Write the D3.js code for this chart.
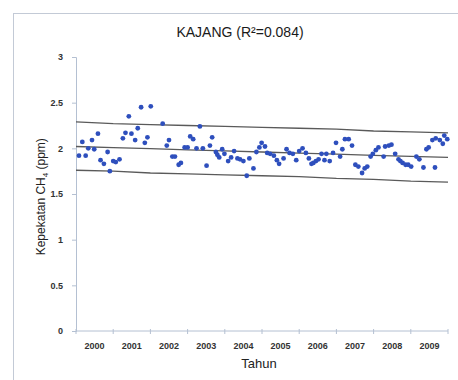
<!DOCTYPE html>
<html>
<head>
<meta charset="utf-8">
<script src="https://cdn.jsdelivr.net/npm/d3@7"></script>
<style>
  html, body { margin: 0; padding: 0; background: #ffffff; }
  svg { display: block; }
</style>
</head>
<body>
<svg id="chart" width="458" height="380"></svg>
<script>
// Monthly CH4 concentration at Kajang, 2000–2009 (decimal year, ppm)
const time = [
  2000.08, 2000.17, 2000.26, 2000.33, 2000.43, 2000.49, 2000.59, 2000.66, 2000.75, 2000.85, 2000.91,
  2001.00, 2001.07, 2001.17, 2001.26, 2001.33, 2001.42, 2001.49, 2001.59, 2001.66, 2001.75, 2001.85, 2001.92,
  2002.01, 2002.33, 2002.44, 2002.50, 2002.59, 2002.66, 2002.76, 2002.82, 2002.92,
  2003.00, 2003.07, 2003.15, 2003.24, 2003.33, 2003.41, 2003.51, 2003.60, 2003.66, 2003.76, 2003.80, 2003.85, 2003.93, 2003.99,
  2004.09, 2004.17, 2004.25, 2004.34, 2004.41, 2004.50, 2004.59, 2004.66, 2004.77, 2004.85, 2004.93, 2004.99,
  2005.08, 2005.14, 2005.22, 2005.32, 2005.40, 2005.46, 2005.58, 2005.66, 2005.74, 2005.83, 2005.92,
  2006.00, 2006.09, 2006.18, 2006.26, 2006.33, 2006.38, 2006.45, 2006.52, 2006.60, 2006.68, 2006.73, 2006.82, 2006.91, 2006.99,
  2007.10, 2007.16, 2007.23, 2007.33, 2007.42, 2007.51, 2007.59, 2007.69, 2007.76, 2007.83, 2007.92, 2007.98,
  2008.06, 2008.13, 2008.27, 2008.31, 2008.41, 2008.48, 2008.58, 2008.67, 2008.72, 2008.78, 2008.86, 2008.93,
  2009.01, 2009.15, 2009.23, 2009.34, 2009.42, 2009.48, 2009.58, 2009.67, 2009.65, 2009.78, 2009.86, 2009.90, 2009.98
];
const ch4 = [
  1.92, 2.07, 1.92, 2.00, 2.09, 1.99, 2.16, 1.87, 1.83, 1.96, 1.75,
  1.86, 1.85, 1.88, 2.11, 2.17, 2.35, 2.16, 2.09, 2.22, 2.45, 2.06, 2.12,
  2.46, 2.27, 2.03, 2.09, 1.91, 1.91, 1.82, 1.84, 2.01,
  2.01, 2.13, 2.10, 2.00, 2.24, 2.00, 1.81, 2.03, 2.12, 1.96, 1.93, 1.90, 1.99, 1.94,
  1.86, 1.90, 1.97, 1.89, 1.88, 1.86, 1.70, 1.89, 1.78, 1.96, 2.01, 2.06,
  2.02, 1.95, 1.94, 1.92, 1.87, 1.83, 1.89, 1.99, 1.95, 1.94, 1.87,
  1.97, 2.00, 1.95, 1.89, 1.83, 1.84, 1.86, 1.88, 1.94, 1.87, 1.94, 1.86, 1.95, 2.06,
  1.91, 1.99, 2.10, 2.10, 2.03, 1.82, 1.80, 1.73, 1.78, 1.80, 1.91, 1.94,
  1.98, 2.01, 1.91, 2.02, 2.03, 2.04, 1.94, 1.88, 1.86, 1.84, 1.82, 1.82,
  1.80, 1.91, 1.88, 1.79, 1.99, 2.01, 2.09, 2.11, 1.79, 2.09, 2.05, 2.14, 2.10
];

// Fitted trend and its upper / lower bands, sampled at year boundaries
const bandYears = [2000, 2001, 2002, 2003, 2004, 2005, 2006, 2007, 2008, 2009, 2010];
const trend     = [2.02, 2.008, 1.996, 1.984, 1.972, 1.96, 1.948, 1.936, 1.924, 1.912, 1.90];
const upper     = [2.29, 2.27, 2.26, 2.25, 2.24, 2.23, 2.22, 2.21, 2.19, 2.18, 2.17];
const lower     = [1.76, 1.75, 1.73, 1.72, 1.71, 1.70, 1.69, 1.67, 1.66, 1.64, 1.63];

const yearLabels = ["2000", "2001", "2002", "2003", "2004", "2005", "2006", "2007", "2008", "2009"];
const yTicks = [0, 0.5, 1, 1.5, 2, 2.5, 3];

const svg = d3.select("#chart");
const font = "'Liberation Sans', Arial, sans-serif";
const axisColor = "#b4c0d2";

// chart frame
svg.append("rect")
  .attr("x", 13.5).attr("y", 13.5)
  .attr("width", 470).attr("height", 400)
  .attr("fill", "#fff")
  .attr("stroke", "#c3cad6").attr("stroke-width", 1);

const x = d3.scaleLinear().domain([2000, 2010]).range([76, 448]);
const y = d3.scaleLinear().domain([0, 3]).range([331, 57]);

// title
svg.append("text")
  .attr("x", 240).attr("y", 37)
  .attr("text-anchor", "middle")
  .attr("font-family", font).attr("font-size", 14)
  .attr("fill", "#1a1a1a")
  .text("KAJANG  (R²=0.084)");

// y axis
const yAxis = svg.append("g")
  .attr("transform", "translate(76,0)")
  .call(d3.axisLeft(y).tickValues(yTicks).tickSize(4).tickPadding(9)
    .tickFormat(d => d3.format("")(d)));
yAxis.select(".domain").attr("stroke", axisColor);
yAxis.selectAll(".tick line").attr("stroke", axisColor);
yAxis.selectAll(".tick text")
  .attr("font-family", font).attr("font-size", 9).attr("font-weight", "bold")
  .attr("fill", "#333");

// x axis: boundary ticks at each year, labels centred within each year
const xAxis = svg.append("g").attr("transform", "translate(0,331)");
xAxis.append("line")
  .attr("x1", x(2000)).attr("x2", x(2010))
  .attr("stroke", axisColor);
xAxis.selectAll("line.yt")
  .data(bandYears)
  .join("line")
  .attr("class", "yt")
  .attr("x1", d => x(d)).attr("x2", d => x(d))
  .attr("y1", -2).attr("y2", 3)
  .attr("stroke", axisColor);
xAxis.selectAll("text.yl")
  .data(yearLabels)
  .join("text")
  .attr("class", "yl")
  .attr("x", d => x(+d + 0.5))
  .attr("y", 18)
  .attr("text-anchor", "middle")
  .attr("font-family", font).attr("font-size", 9).attr("font-weight", "bold")
  .attr("fill", "#333")
  .text(d => d);

// axis titles
svg.append("text")
  .attr("x", x(2005) - 3).attr("y", 368)
  .attr("text-anchor", "middle")
  .attr("font-family", font).attr("font-size", 13)
  .attr("fill", "#222")
  .text("Tahun");

const yTitle = svg.append("text")
  .attr("transform", `translate(45,${y(1.47)}) rotate(-90)`)
  .attr("text-anchor", "middle")
  .attr("font-family", font).attr("font-size", 12)
  .attr("fill", "#222");
yTitle.append("tspan").text("Kepekatan CH");
yTitle.append("tspan").attr("font-size", 8).attr("dy", 3).text("4");
yTitle.append("tspan").attr("dy", -3).text(" (ppm)");

// trend line and bands
const line = d3.line().x(d => x(d[0])).y(d => y(d[1]));
[upper, trend, lower].forEach(series => {
  svg.append("path")
    .datum(bandYears.map((yr, i) => [yr, series[i]]))
    .attr("d", line)
    .attr("fill", "none")
    .attr("stroke", "#5a5a5a")
    .attr("stroke-width", 1.3);
});

// observations
svg.append("g")
  .selectAll("circle")
  .data(time.map((t, i) => [t, ch4[i]]))
  .join("circle")
  .attr("cx", d => x(d[0]))
  .attr("cy", d => y(d[1]))
  .attr("r", 2.4)
  .attr("fill", "#2e4fbd");
</script>
</body>
</html>
